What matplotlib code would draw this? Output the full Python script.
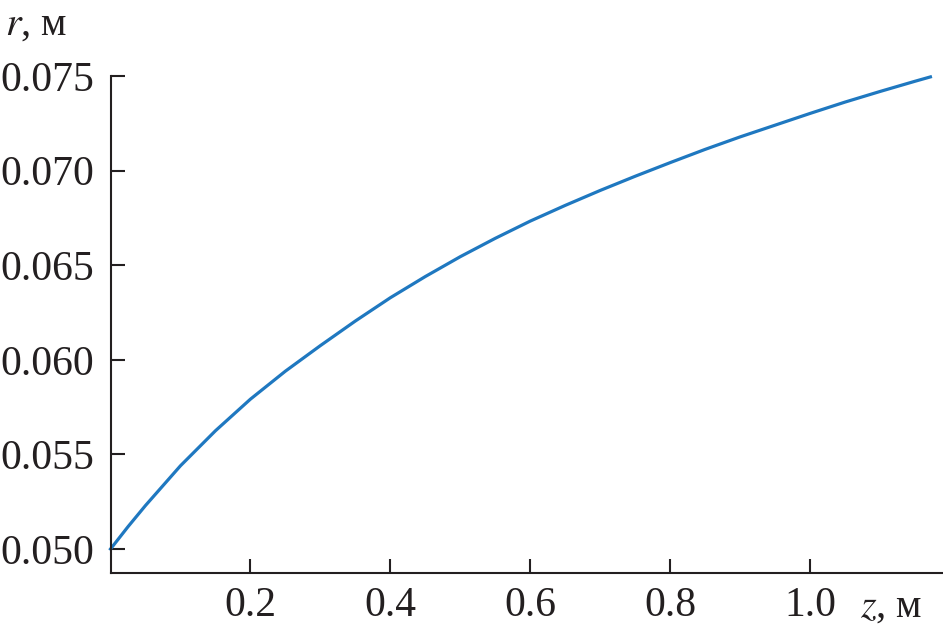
import matplotlib
matplotlib.use('Agg')
import matplotlib.pyplot as plt

plt.rcParams['font.family'] = ['Liberation Serif', 'DejaVu Serif']
plt.rcParams['mathtext.fontset'] = 'stix'

# values
z = [0.0, 0.025, 0.05, 0.1, 0.15, 0.2, 0.25, 0.3, 0.35, 0.4, 0.45, 0.5, 0.55,
     0.6, 0.65, 0.7, 0.75, 0.8, 0.85, 0.9, 0.95, 1.0, 1.05, 1.1, 1.15, 1.172]
r = [0.05000, 0.05118, 0.05230, 0.05440, 0.05625, 0.05792, 0.05940, 0.06075,
     0.06205, 0.06328, 0.06440, 0.06545, 0.06642, 0.06733, 0.06816, 0.06895,
     0.06970, 0.07042, 0.07112, 0.07178, 0.07240, 0.07302, 0.07362, 0.07418,
     0.07472, 0.07495]
xticks = [0.2, 0.4, 0.6, 0.8, 1.0]
xtick_labels = ['0.2', '0.4', '0.6', '0.8', '1.0']
yticks = [0.050, 0.055, 0.060, 0.065, 0.070, 0.075]
ytick_labels = ['0.050', '0.055', '0.060', '0.065', '0.070', '0.075']

fig = plt.figure(figsize=(9.43, 6.33), dpi=100)
ax = fig.add_axes([0.1172, 0.0953, 0.8828, 0.7847])

ax.plot(z, r, color='#1f78c0', linewidth=2.3, clip_on=False,
        solid_joinstyle='round')

ax.set_xlim(0, 1.19)
ax.set_ylim(0.04875, 0.075)
ax.set_xticks(xticks)
ax.set_xticklabels(xtick_labels)
ax.set_yticks(yticks)
ax.set_yticklabels(ytick_labels)

for side in ['top', 'right']:
    ax.spines[side].set_visible(False)
for side in ['left', 'bottom']:
    ax.spines[side].set_linewidth(1.5)
    ax.spines[side].set_color('#231f20')

ax.tick_params(axis='both', direction='in', length=10, width=1.5,
               labelsize=30, colors='#231f20')
ax.tick_params(axis='y', pad=12)
ax.tick_params(axis='x', pad=10)

fig.text(0.005, 0.945, '$r$, м', fontsize=29, color='#231f20', va='baseline')
fig.text(0.912, 0.0255, '$z$, м', fontsize=29, color='#231f20', va='baseline')

fig.savefig('out.png', dpi=100)
